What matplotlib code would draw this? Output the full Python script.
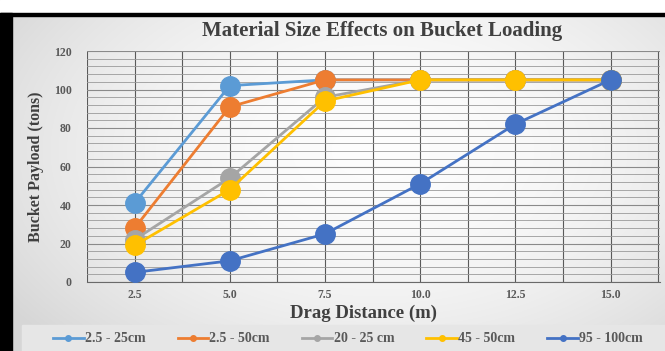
import numpy as np
import matplotlib.pyplot as plt
from matplotlib.patches import Rectangle
from matplotlib.lines import Line2D

plt.rcParams['font.family'] = ['Liberation Serif', 'DejaVu Serif']

distance = [2.5, 5.0, 7.5, 10.0, 12.5, 15.0]
series_names = ["2.5 - 25cm", "2.5 - 50cm", "20 - 25 cm", "45 - 50cm", "95 - 100cm"]
payload_25 = [41, 102, 105, 105, 105, 105]
payload_50 = [28, 91, 105, 105, 105, 105]
payload_20_25 = [22, 54, 96, 105, 105, 105]
payload_45_50 = [19, 48, 94, 105, 105, 105]
payload_95_100 = [5, 11, 25, 51, 82, 105]
colors = ["#5B9BD5", "#ED7D31", "#A5A5A5", "#FFC000", "#4472C4"]
xticks = [2.5, 5.0, 7.5, 10.0, 12.5, 15.0]

fig = plt.figure(figsize=(6.65, 3.51), dpi=100)

# background: radial gradient, black frame on left/top
bg = fig.add_axes([0, 0, 1, 1], zorder=-10)
bg.set_axis_off()
yy, xx = np.mgrid[0:351, 0:665]
r = np.sqrt(((xx - 380) / 420.0) ** 2 + ((yy - 150) / 260.0) ** 2)
shade = np.clip(0.99 - 0.13 * r ** 2, 0.84, 0.99)
img = np.dstack([shade, shade, shade])
bg.imshow(img, extent=[0, 665, 351, 0], aspect='auto')
bg.set_xlim(0, 665)
bg.set_ylim(351, 0)
bg.add_patch(Rectangle((0, 0), 665, 13, color='white'))
bg.add_patch(Rectangle((0, 13), 665, 3, color='black'))
bg.add_patch(Rectangle((0, 13), 12, 338, color='black'))
bg.add_patch(Rectangle((22, 325), 643, 26, color='#e6e6e6'))

ax = fig.add_axes([87 / 665, 1 - 282 / 351, (660 - 87) / 665, (282 - 51) / 351])
ax.set_facecolor('none')

all_series = [payload_25, payload_50, payload_20_25, payload_45_50, payload_95_100]
for vals, c in zip(all_series, colors):
    ax.plot(distance, vals, color=c, lw=2, marker='o', markersize=14, zorder=3)

ax.set_xlim(1.25, 16.3)
ax.set_ylim(0, 120)
ax.set_xticks(xticks)
ax.set_xticks(np.arange(1.25, 16.3, 1.25), minor=True)
ax.set_yticks(np.arange(0, 121, 20))
ax.set_yticks(np.arange(0, 121, 4), minor=True)
ax.grid(which='minor', axis='y', color='#9a9a9a', lw=0.6)
ax.grid(which='major', axis='y', color='#8a8a8a', lw=0.8)
ax.grid(which='both', axis='x', color='#5a5a5a', lw=0.8)
ax.tick_params(which='both', length=0, labelsize=8.5, colors='#595959')
for lab in ax.get_xticklabels() + ax.get_yticklabels():
    lab.set_fontweight('bold')
ax.tick_params(axis='x', pad=5)
ax.tick_params(axis='y', pad=11)
for s in ['top', 'right', 'left']:
    ax.spines[s].set_visible(False)
ax.spines['bottom'].set_color('#6a6a6a')

ax.set_xlabel("Drag Distance (m)", fontsize=13.5, fontweight='bold', color='#404040')
ax.xaxis.set_label_coords((363 - 87) / 573, -0.1)
ax.set_ylabel("Bucket Payload (tons)", fontsize=11.5, fontweight='bold', color='#404040')
ax.yaxis.set_label_coords(-(87 - 44) / 573, 0.5)
fig.text(382 / 665, 1 - 31 / 351, "Material Size Effects on Bucket Loading", ha='center', va='center',
         fontsize=15, fontweight='bold', color='#404040')

handles = [Line2D([], [], color=c, lw=2, marker='o', markersize=4) for c in colors]
fig.legend(handles, series_names, loc='center', bbox_to_anchor=(348 / 665, 1 - 339 / 351), ncol=5,
           frameon=False, handlelength=2.2, handletextpad=0.1, columnspacing=2.3,
           prop={'weight': 'bold', 'size': 10})
for t in fig.legends[0].get_texts():
    t.set_color('#595959')

fig.savefig("out.png", dpi=100)
